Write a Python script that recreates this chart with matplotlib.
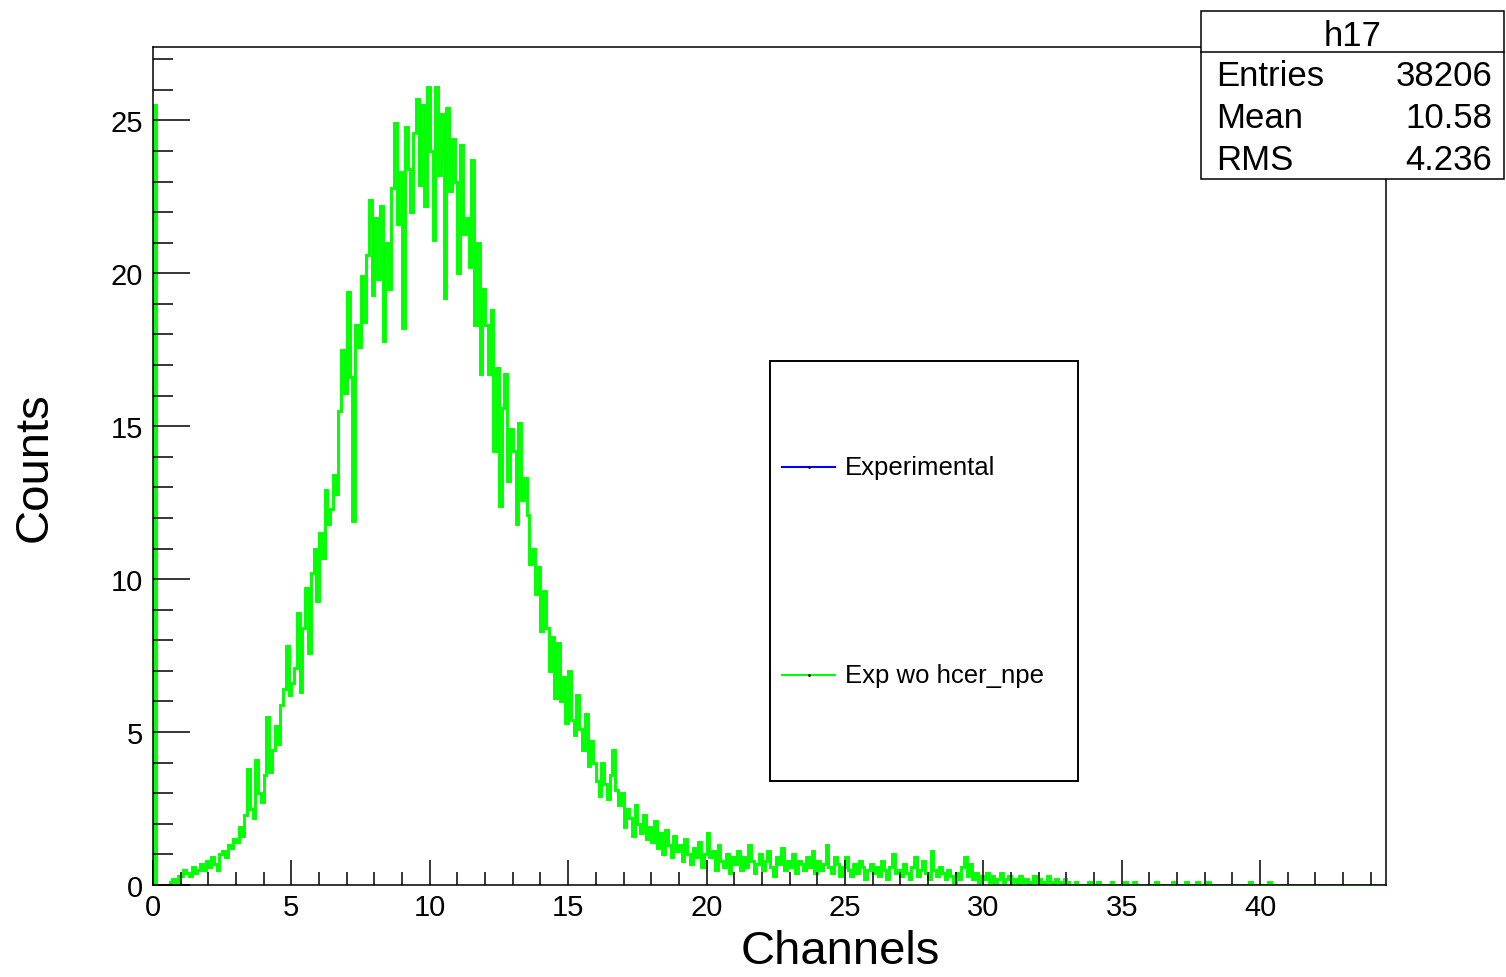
import numpy as np
import matplotlib
matplotlib.use('Agg')
import matplotlib.pyplot as plt
from matplotlib.patches import Rectangle
from matplotlib.lines import Line2D
from matplotlib.ticker import MultipleLocator

plt.rcParams['font.family'] = ['Liberation Sans', 'DejaVu Sans']

# Histogram contents, bin width 0.1 starting at 0 (one row per unit of x)
bin_width = 0.1
counts = [
    25.5, 0, 0, 0, 0, 0, 0.1, 0.2, 0.1, 0.3,
    0.3, 0.5, 0.4, 0.3, 0.6, 0.4, 0.5, 0.7, 0.5, 0.8,
    0.6, 0.9, 0.7, 0.5, 1.0, 1.1, 0.9, 1.3, 1.2, 1.5,
    1.4, 1.9, 1.6, 2.3, 3.8, 2.5, 2.2, 4.1, 3.0, 2.7,
    3.6, 5.5, 3.7, 4.4, 5.2, 4.6, 5.9, 6.4, 7.8, 6.2,
    6.6, 7.1, 8.9, 6.3, 8.4, 9.7, 7.6, 10.2, 11.0, 9.3,
    11.5, 10.7, 12.9, 11.8, 12.3, 13.4, 12.8, 15.5, 17.5, 16.1,
    19.4, 16.6, 11.9, 18.3, 17.6, 19.9, 18.4, 20.6, 22.4, 19.3,
    21.8, 19.8, 22.2, 17.8, 21.0, 19.5, 22.8, 24.9, 21.6, 23.3,
    18.2, 24.8, 23.4, 22.0, 24.6, 25.7, 22.9, 25.5, 22.2, 26.1,
    24.0, 21.1, 26.1, 23.2, 25.2, 19.2, 25.4, 22.7, 24.4, 23.0,
    20.0, 24.2, 21.3, 21.8, 20.2, 23.7, 18.3, 21.0, 16.7, 19.5,
    18.3, 16.7, 18.8, 14.2, 16.9, 12.4, 15.6, 16.7, 13.2, 14.9,
    14.2, 11.8, 15.1, 12.6, 13.3, 12.1, 10.5, 11.0, 9.5, 10.4,
    8.3, 9.6, 8.4, 7.0, 8.1, 6.1, 7.9, 6.0, 6.8, 5.3,
    7.0, 5.4, 4.9, 6.2, 5.1, 4.4, 5.6, 3.9, 4.7, 4.0,
    3.4, 2.9, 4.0, 3.3, 2.8, 3.6, 4.4, 3.1, 2.6, 3.0,
    1.9, 2.5, 2.2, 1.6, 2.6, 2.0, 1.7, 2.3, 1.5, 1.9,
    1.4, 2.1, 1.2, 1.7, 1.0, 1.8, 1.3, 0.9, 1.6, 1.1,
    1.3, 0.8, 1.5, 1.0, 0.7, 1.2, 0.9, 1.4, 0.6, 1.0,
    1.7, 0.9, 1.1, 0.5, 1.3, 0.8, 0.6, 1.0, 0.4, 0.9,
    0.7, 1.1, 0.5, 0.9, 0.6, 1.3, 0.8, 0.4, 0.7, 1.0,
    0.5, 0.8, 1.1, 0.6, 0.3, 0.9, 0.7, 1.2, 0.5, 0.8,
    0.6, 1.0, 0.4, 0.8, 0.7, 0.5, 0.9, 0.6, 1.1, 0.4,
    0.8, 0.5, 0.7, 1.3, 0.6, 0.4, 0.9, 0.7, 0.3, 0.6,
    0.9, 0.5, 0.3, 0.7, 0.4, 0.8, 0.6, 0.2, 0.5, 0.7,
    0.4, 0.6, 0.3, 0.8, 0.5, 0.2, 0.6, 1.0, 0.4, 0.5,
    0.3, 0.7, 0.4, 0.2, 0.6, 0.9, 0.3, 0.5, 0.8, 0.4,
    0.2, 1.1, 0.5, 0.3, 0.6, 0.4, 0.2, 0.5, 0.3, 0.1,
    0.4, 0.2, 0.6, 0.9, 0.3, 0.7, 0.2, 0.4, 0.1, 0.3,
    0.2, 0.4, 0.1, 0.3, 0.0, 0.2, 0.4, 0.1, 0.2, 0.3,
    0.1, 0.2, 0.0, 0.3, 0.1, 0.2, 0.0, 0.1, 0.3, 0.1,
    0.2, 0.0, 0.1, 0.3, 0.1, 0.0, 0.2, 0.1, 0.0, 0.2,
    0.1, 0.0, 0.0, 0.1, 0.0, 0.0, 0.0, 0.0, 0.1, 0.0,
    0.0, 0.1, 0.0, 0.0, 0.0, 0.0, 0.1, 0.0, 0.0, 0.0,
    0.0, 0.1, 0.0, 0.0, 0.1, 0.0, 0.0, 0.0, 0.0, 0.0,
    0.0, 0.0, 0.1, 0.0, 0.0, 0.0, 0.0, 0.0, 0.1, 0.0,
    0.0, 0.0, 0.0, 0.1, 0.0, 0.0, 0.0, 0.1, 0.0, 0.0,
    0.0, 0.1, 0.0, 0.0, 0.0, 0.0, 0.0, 0.0, 0.0, 0.0,
    0.0, 0.0, 0.0, 0.0, 0.0, 0.0, 0.1, 0.0, 0.0, 0.0,
    0.0, 0.0, 0.0, 0.1, 0.0, 0.0, 0.0, 0.0, 0.0, 0.0,
    0.0, 0.0, 0.0, 0.0, 0.0, 0.0, 0.0, 0.0, 0.0, 0.0,
    0.0, 0.0, 0.0, 0.0, 0.0, 0.0, 0.0, 0.0, 0.0, 0.0,
    0.0, 0.0, 0.0, 0.0, 0.0, 0.0, 0.0, 0.0, 0.0, 0.0,
    0.0, 0.0, 0.0, 0.0, 0.0,
]

hist_name = 'h17'
stat_names = ['Entries', 'Mean', 'RMS']
stat_values = ['38206', '10.58', '4.236']
legend_labels = ['Experimental', 'Exp wo hcer_npe']
legend_colors = ['#0000ff', '#00ff00']

W, H = 1506, 978


def fx(px):
    return px / W


def fy(py):
    return 1 - py / H


fig = plt.figure(figsize=(W / 100, H / 100), dpi=100)
ax = fig.add_axes([fx(153), fy(886), fx(1386) - fx(153), fy(48) - fy(886)])

edges = np.arange(len(counts) + 1) * bin_width
ax.stairs(counts, edges, color='#00ff00', linewidth=2.1, baseline=0)

ax.set_xlim(0, 44.55)
ax.set_ylim(0, 27.4)
ax.xaxis.set_major_locator(MultipleLocator(5))
ax.xaxis.set_minor_locator(MultipleLocator(1))
ax.yaxis.set_major_locator(MultipleLocator(5))
ax.yaxis.set_minor_locator(MultipleLocator(1))
ax.tick_params(axis='x', which='major', direction='in', length=18, width=1.1,
               labelsize=21, pad=6)
ax.tick_params(axis='x', which='minor', direction='in', length=9.5, width=1.1)
ax.tick_params(axis='y', which='major', direction='in', length=26.5, width=1.1,
               labelsize=21, pad=7)
ax.tick_params(axis='y', which='minor', direction='in', length=14.5, width=1.1)
for sp in ax.spines.values():
    sp.set_linewidth(1.1)

fig.text(fx(840), fy(952), 'Channels', fontsize=34, ha='center', va='center')
fig.text(fx(35), fy(467), 'Counts', fontsize=34, ha='center', va='center',
         rotation=90)

# Legend box
fig.add_artist(Rectangle((fx(770), fy(782)), fx(1078) - fx(770), fy(362) - fy(782),
                         transform=fig.transFigure, facecolor='white',
                         edgecolor='black', linewidth=1.4, zorder=5))
for label, color, py in zip(legend_labels, legend_colors, [468, 676]):
    fig.add_artist(Line2D([fx(782), fx(835)], [fy(py), fy(py)], color=color,
                          linewidth=1.5, transform=fig.transFigure, zorder=6))
    fig.add_artist(Line2D([fx(808.5)], [fy(py)], color='black', marker='o',
                          markersize=1, transform=fig.transFigure, zorder=7))
    fig.text(fx(845), fy(py), label, fontsize=18.5, ha='left', va='center',
             zorder=7)

# Stats box
fig.add_artist(Rectangle((fx(1201), fy(180)), fx(1504) - fx(1201), fy(12) - fy(180),
                         transform=fig.transFigure, facecolor='white',
                         edgecolor='black', linewidth=1.1, zorder=5))
fig.add_artist(Line2D([fx(1201), fx(1504)], [fy(53), fy(53)], color='black',
                      linewidth=1.1, transform=fig.transFigure, zorder=6))
fig.text(fx(1353), fy(37), hist_name, fontsize=25, ha='center', va='center', zorder=7)
for name, val, py in zip(stat_names, stat_values, [77, 119, 160]):
    fig.text(fx(1216), fy(py), name, fontsize=25, ha='left', va='center', zorder=7)
    fig.text(fx(1492), fy(py), val, fontsize=25, ha='right', va='center', zorder=7)

fig.savefig('out.png', dpi=100)
